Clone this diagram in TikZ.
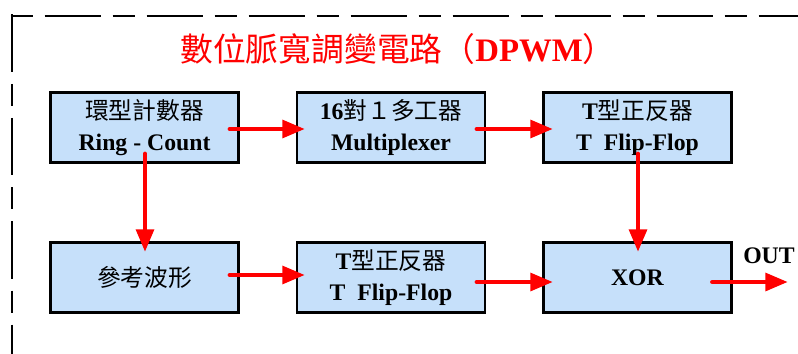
\documentclass[tikz,border=0pt]{standalone}
\usepackage{fontspec}
\setmainfont{Liberation Serif}
\newfontfamily\cjk{Noto Sans CJK TC}
\usetikzlibrary{arrows.meta,calc}
\definecolor{boxfill}{RGB}{198,224,250}
\definecolor{sigred}{RGB}{255,0,0}
\begin{document}
\begin{tikzpicture}[x=0.75pt,y=-0.75pt,
  blk/.style={draw=black, line width=2pt, fill=boxfill,
    minimum width=141pt, minimum height=52.5pt, outer sep=0pt, inner sep=0pt,
    align=center, font=\fontsize{17.8}{23}\selectfont},
  sig/.style={draw=sigred, line width=3.7pt, line cap=round,
    -{Triangle[length=17pt,width=13pt]}},
  frame/.style={line width=2.2pt, black},
  ttl/.style={text=sigred, font=\fontsize{24.6}{28}\selectfont, inner sep=0pt},
  lbl/.style={font=\fontsize{17.8}{22}\selectfont\bfseries, inner sep=0pt}]
\useasboundingbox (0,0) rectangle (798,353);
\clip (0,0) rectangle (798,353);

% dashed enclosure (only its top and left sides fall inside the page)
\draw[frame, dash pattern=on 16.5pt off 9pt on 42pt off 9pt] (10.5,16) -- (830,16);
\draw[frame, dash pattern=on 43pt off 9pt on 16.5pt off 9pt] (12,14.5) -- (12,390);

% title
\node[ttl] (title) at (398,49) {{\cjk 數位脈寬調變電路（}\textbf{DPWM}{\cjk ）}};

% blocks
\node[blk] (ring) at (144.5,127.5) {{\cjk 環型計數器}\\\textbf{Ring - Count}};
\node[blk] (mux)  at (391,127.5)   {\textbf{16}{\cjk 對１多工器}\\\textbf{Multiplexer}};
\node[blk] (tffa) at (637.5,127.5) {\textbf{T}{\cjk 型正反器}\\\textbf{T\ \ Flip-Flop}};
\node[blk] (ref)  at (144.5,277.5) {{\cjk 參考波形}};
\node[blk] (tffb) at (391,277.5)   {\textbf{T}{\cjk 型正反器}\\\textbf{T\ \ Flip-Flop}};
\node[blk] (xor)  at (637.5,277.5) {\textbf{XOR}};

% output
\coordinate (outend) at (788,282);
\node[lbl, anchor=base west] (outlbl) at (743,263) {OUT};

% signal paths
\draw[sig] ($(ring.east)+(-8.5,1.5)$) -- ($(mux.west)+(8,1.5)$);
\draw[sig] ($(mux.east)+(-8,1.5)$) -- ($(tffa.west)+(9.5,1.5)$);
\draw[sig] ($(ring.south)+(0.5,-8.5)$) -- ($(ref.north)+(0.5,9.5)$);
\draw[sig] ($(tffa.south)+(0.5,-8.5)$) -- ($(xor.north)+(0.5,9.5)$);
\draw[sig] ($(ref.east)+(-8.5,-2.5)$) -- ($(tffb.west)+(8,-2.5)$);
\draw[sig] ($(tffb.east)+(-8,4.5)$) -- ($(xor.west)+(9.5,4.5)$);
\draw[sig] ($(xor.east)+(-19,4.5)$) -- (outend);
\end{tikzpicture}
\end{document}
